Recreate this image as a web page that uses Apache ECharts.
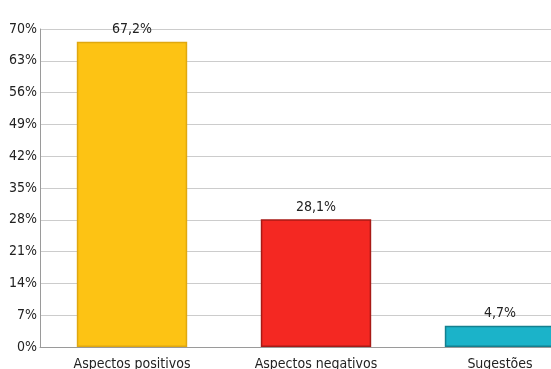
<!DOCTYPE html>
<html>
<head>
<meta charset="utf-8">
<script src="https://cdn.jsdelivr.net/npm/echarts@6/dist/echarts.min.js"></script>
<style>
  html, body { margin: 0; padding: 0; background: #fff; overflow: hidden; }
  #chart { width: 592px; height: 369px; }
</style>
</head>
<body>
<div id="chart"></div>
<script>
// Survey answers grouped by type, shown as percentages
const categories = ['Aspectos positivos', 'Aspectos negativos', 'Sugestões'];
const shares = [67.2, 28.1, 4.7];
const labels = ['67,2%', '28,1%', '4,7%'];
const fills = ['#FDC314', '#F42822', '#1BB3C9'];
const edges = ['#E0A810', '#A81A16', '#14808F'];

const font = '"DejaVu Sans Condensed", sans-serif';
const size = 14;

const chart = echarts.init(document.getElementById('chart'), null, { renderer: 'canvas' });
chart.setOption({
  animation: false,
  grid: { left: 40, right: 0, top: 29, bottom: 22, containLabel: false, outerBoundsMode: 'none' },
  xAxis: {
    type: 'category',
    data: categories,
    axisLine: { show: true, lineStyle: { color: '#9a9a9a', width: 1 } },
    axisTick: { show: false },
    axisLabel: { color: '#222', fontFamily: font, fontSize: size, margin: 10 }
  },
  yAxis: {
    type: 'value',
    min: 0,
    max: 70,
    interval: 7,
    axisLine: { show: true, lineStyle: { color: '#9a9a9a', width: 1 } },
    axisTick: { show: false },
    splitLine: { lineStyle: { color: '#cccccc', width: 1 } },
    axisLabel: { color: '#222', fontFamily: font, fontSize: size, margin: 3, formatter: '{value}%' }
  },
  series: [{
    type: 'bar',
    barWidth: '60%',
    data: shares.map((v, i) => ({
      value: v,
      itemStyle: { color: fills[i], borderColor: edges[i], borderWidth: 1.5 },
      label: { formatter: labels[i] }
    })),
    label: {
      show: true,
      position: 'top',
      distance: 5,
      color: '#222',
      fontFamily: font,
      fontSize: size
    }
  }]
});
</script>
</body>
</html>
